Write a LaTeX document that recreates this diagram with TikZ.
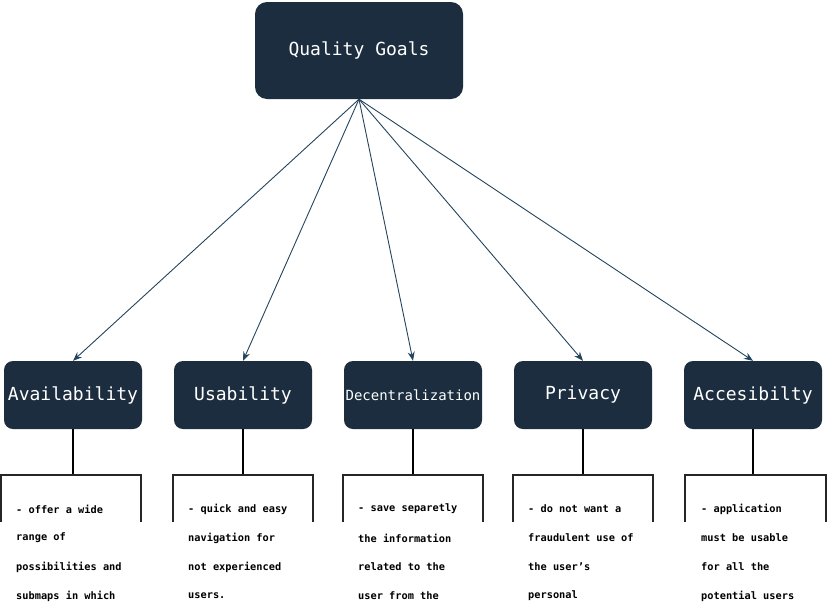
\documentclass[tikz,border=0pt]{standalone}
\usepackage{fontspec}
\setmonofont{DejaVu Sans Mono}
\usetikzlibrary{arrows.meta}
\definecolor{boxfill}{HTML}{1B2D3E}
\definecolor{arrowcol}{HTML}{23445D}
\begin{document}
\begin{tikzpicture}[x=1pt,y=-1pt,
  goal/.style={draw=none,fill=boxfill,rounded corners=9pt,minimum width=138pt,minimum height=68pt,text=white,font=\ttfamily\fontsize{18}{18}\selectfont,inner sep=0pt},
  top/.style={goal,minimum width=208pt,minimum height=97pt,rounded corners=12pt},
  conn/.style={draw=arrowcol,line width=0.9pt,-{Stealth[length=9pt,width=7pt]}},
  stem/.style={draw=black,line width=2pt},
  frame/.style={draw=black!85,line width=2pt},
  desc/.style={anchor=west,inner sep=0pt,font=\ttfamily\bfseries\fontsize{10.3}{10.3}\selectfont}
]
\useasboundingbox (0,0) rectangle (827,606);
\node[top] (Q) at (359,50.5) {Quality Goals};
\node[goal] (A) at (73,395) {Availability};
\node[goal] (U) at (243,395) {Usability};
\node[goal,font=\ttfamily\fontsize{14}{14}\selectfont] (D) at (413,395) {Decentralization};
\node[goal] (P) at (583,395) {Privacy};
\node[goal] (C) at (753,395) {Accesibilty};
\foreach \n in {A,U,D,P,C} \draw[conn] (Q.south) -- (\n.north);
% frames
\foreach \n/\l/\r in {A/1/141, U/173/313, D/343/483, P/513/653, C/685/826}{
  \coordinate (\n t) at (\n.south |- 0,475);
  \draw[stem] (\n.south) -- (\n t);
  \draw[frame] (\l,522) -- (\l,475) -- (\r,475) -- (\r,522);
}
% texts
\node[desc] (a1) at (16,509) {- offer a wide};
\node[desc] (a2) at (16,538) {range of};
\node[desc] (a3) at (16,567) {possibilities and};
\node[desc] (a4) at (16,596) {submaps in which};
\node[desc] (u1) at (188,509) {- quick and easy};
\node[desc] (u2) at (188,538) {navigation for};
\node[desc] (u3) at (188,567) {not experienced};
\node[desc] (u4) at (188,596) {users.};
\node[desc] (d1) at (358,509) {- save separetly};
\node[desc] (d2) at (358,538) {the information};
\node[desc] (d3) at (358,567) {related to the};
\node[desc] (d4) at (358,596) {user from the};
\node[desc] (p1) at (528,509) {- do not want a};
\node[desc] (p2) at (528,538) {fraudulent use of};
\node[desc] (p3) at (528,567) {the user’s};
\node[desc] (p4) at (528,596) {personal};
\node[desc] (c1) at (701,509) {- application};
\node[desc] (c2) at (701,538) {must be usable};
\node[desc] (c3) at (701,567) {for all the};
\node[desc] (c4) at (701,596) {potential users};
\end{tikzpicture}
\end{document}
